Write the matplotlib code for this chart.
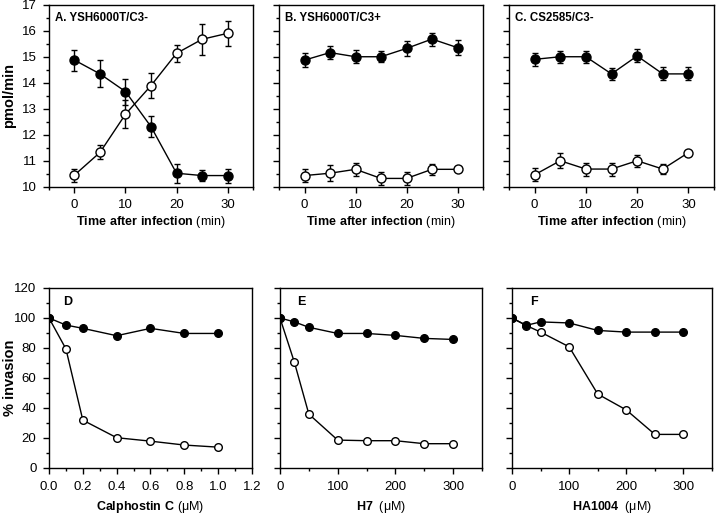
import matplotlib
matplotlib.use("Agg")
import matplotlib.pyplot as plt
from matplotlib.ticker import MultipleLocator, FixedLocator

plt.rcParams['font.family'] = ['Liberation Sans', 'DejaVu Sans']
plt.rcParams['mathtext.fontset'] = 'custom'
plt.rcParams['mathtext.bf'] = 'Liberation Sans:bold'
plt.rcParams['mathtext.rm'] = 'Liberation Sans'

# --- top row: pmol/min vs time after infection ---
time_min = [0, 5, 10, 15, 20, 25, 30]

a_filled = [14.88, 14.35, 13.67, 12.32, 10.53, 10.44, 10.44]
a_filled_err = [0.40, 0.52, 0.50, 0.40, 0.37, 0.22, 0.27]
a_open = [10.46, 11.33, 12.80, 13.90, 15.14, 15.68, 15.91]
a_open_err = [0.25, 0.27, 0.55, 0.47, 0.32, 0.60, 0.48]

b_filled = [14.88, 15.17, 15.01, 15.01, 15.33, 15.69, 15.36]
b_filled_err = [0.28, 0.24, 0.25, 0.22, 0.28, 0.25, 0.28]
b_open = [10.44, 10.53, 10.68, 10.33, 10.33, 10.68, 10.68]
b_open_err = [0.25, 0.30, 0.25, 0.25, 0.25, 0.20, 0.08]

c_filled = [14.91, 15.01, 15.01, 14.35, 15.04, 14.35, 14.35]
c_filled_err = [0.26, 0.23, 0.23, 0.22, 0.25, 0.25, 0.25]
c_open = [10.47, 11.01, 10.69, 10.69, 11.01, 10.69, 11.32]
c_open_err = [0.25, 0.28, 0.25, 0.25, 0.23, 0.20, 0.07]

# --- bottom row: % invasion vs inhibitor concentration ---
calph_conc = [0.0, 0.1, 0.2, 0.4, 0.6, 0.8, 1.0]
d_filled = [100, 95.3, 93.1, 88.2, 93.1, 89.7, 89.7]
d_open = [100, 79.4, 31.9, 20.2, 17.9, 15.3, 13.9]

h7_conc = [0, 25, 50, 100, 150, 200, 250, 300]
e_filled = [100, 97.4, 93.8, 89.7, 89.7, 88.4, 86.4, 85.7]
e_open = [100, 70.4, 35.9, 18.6, 18.2, 18.2, 16.2, 16.2]

ha_conc = [0, 25, 50, 100, 150, 200, 250, 300]
f_filled = [100, 95.1, 97.4, 96.7, 91.7, 90.6, 90.6, 90.6]
f_open = [100, 95.0, 90.6, 80.8, 49.3, 38.7, 22.4, 22.4]

W, H = 720, 514
fig = plt.figure(figsize=(W / 100, H / 100), dpi=100)


def px_axes(left, right, top, bottom):
    return fig.add_axes([left / W, 1 - bottom / H, (right - left) / W, (bottom - top) / H])


def style(ax):
    for s in ax.spines.values():
        s.set_linewidth(1.0)
    ax.tick_params(which='major', direction='out', length=4, width=1, labelsize=9.5, pad=5)
    ax.tick_params(which='minor', direction='out', length=2.5, width=1)


def plot_pair(ax, x, filled, open_, filled_err=None, open_err=None, ms=6.5):
    kw = dict(color='black', lw=1.0, capsize=2.5, elinewidth=1.0, capthick=1.0, markersize=ms)
    if filled_err is None:
        ax.plot(x, open_, '-o', color='black', lw=1.0, mfc='white', mec='black', mew=1.0, markersize=ms, zorder=3)
        ax.plot(x, filled, '-o', color='black', lw=1.0, mfc='black', markersize=ms, zorder=4)
    else:
        ax.errorbar(x, filled, yerr=filled_err, fmt='-o', mfc='black', mec='black', zorder=3, **kw)
        ax.errorbar(x, open_, yerr=open_err, fmt='-o', mfc='white', mec='black', mew=1.0, zorder=4, **kw)


top_specs = [
    ((49, 253), "A. YSH6000T/C3-", a_filled, a_filled_err, a_open, a_open_err),
    ((279, 483), "B. YSH6000T/C3+", b_filled, b_filled_err, b_open, b_open_err),
    ((509, 714), "C. CS2585/C3-", c_filled, c_filled_err, c_open, c_open_err),
]
for i, ((l, r), title, fv, fe, ov, oe) in enumerate(top_specs):
    ax = px_axes(l, r, 5, 187)
    plot_pair(ax, time_min, fv, ov, fe, oe)
    ax.set_xlim(-5, 35)
    ax.set_ylim(10, 17)
    ax.set_xticks([0, 10, 20, 30])
    ax.xaxis.set_minor_locator(FixedLocator([-5, 35]))
    ax.yaxis.set_major_locator(MultipleLocator(1))
    ax.yaxis.set_minor_locator(MultipleLocator(0.5))
    style(ax)
    ax.set_xlabel(r"$\mathbf{Time\ after\ infection}$ (min)", fontsize=9, labelpad=1.5)
    ax.text(0.03, 0.93, title, transform=ax.transAxes, fontsize=8.3, fontweight='bold', va='center')
    if i == 0:
        ax.set_ylabel("pmol/min", fontsize=10.5, fontweight='bold')
        ax.yaxis.set_label_coords(-0.16, 0.5)
    else:
        ax.tick_params(axis='y', which='both', labelleft=False)

bottom_specs = [
    ((49, 252), "D", calph_conc, d_filled, d_open, (0, 1.2), 0.2, 0.1,
     r"$\mathbf{Calphostin\ C}$ (μM)", 0.07),
    ((280, 482), "E", h7_conc, e_filled, e_open, (0, 350), 100, 50,
     r"$\mathbf{H7}$  (μM)", 0.085),
    ((512, 712), "F", ha_conc, f_filled, f_open, (0, 350), 100, 50,
     r"$\mathbf{HA1004}$  (μM)", 0.09),
]
for i, ((l, r), tag, x, fv, ov, xlim, xmaj, xmin, xlabel, tag_x) in enumerate(bottom_specs):
    ax = px_axes(l, r, 288, 468)
    plot_pair(ax, x, fv, ov, ms=5.5)
    ax.set_xlim(*xlim)
    ax.set_ylim(0, 120)
    ax.xaxis.set_major_locator(MultipleLocator(xmaj))
    ax.xaxis.set_minor_locator(MultipleLocator(xmin))
    ax.yaxis.set_major_locator(MultipleLocator(20))
    ax.yaxis.set_minor_locator(MultipleLocator(10))
    style(ax)
    if i == 0:
        ax.set_xticks([0, 0.2, 0.4, 0.6, 0.8, 1.0, 1.2])
        ax.set_xticklabels(["0.0", "0.2", "0.4", "0.6", "0.8", "1.0", "1.2"])
    else:
        ax.set_xticks([0, 100, 200, 300])
    ax.set_xlabel(xlabel, fontsize=9, labelpad=5)
    ax.text(tag_x, 0.92, tag, transform=ax.transAxes, fontsize=9, fontweight='bold', va='center')
    if i == 0:
        ax.set_ylabel("% invasion", fontsize=10.5, fontweight='bold')
        ax.yaxis.set_label_coords(-0.16, 0.5)
    else:
        ax.tick_params(axis='y', which='both', labelleft=False)

fig.savefig("out.png", dpi=100, facecolor='white')
